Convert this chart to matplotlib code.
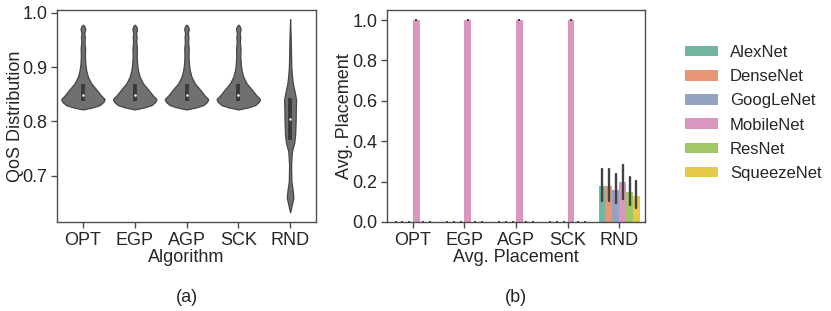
import matplotlib
matplotlib.use("Agg")
import matplotlib.pyplot as plt
from matplotlib.patches import Patch
import numpy as np
import seaborn as sns

sns.set_style("ticks")
plt.rcParams["font.family"] = ["Liberation Sans", "DejaVu Sans"]
plt.rcParams["font.size"] = 13

ALGOS = ["OPT", "EGP", "AGP", "SCK", "RND"]
MODELS = ["AlexNet", "DenseNet", "GoogLeNet", "MobileNet", "ResNet", "SqueezeNet"]

# (a) violin outlines: QoS level -> half width (category units)
greedy_qos = [0.822, 0.826, 0.830, 0.836, 0.841, 0.848, 0.858, 0.870, 0.882,
              0.894, 0.905, 0.920, 0.935, 0.945, 0.955, 0.962, 0.970, 0.975, 0.978]
greedy_hw = [0.0, 0.194, 0.324, 0.397, 0.420, 0.349, 0.266, 0.161, 0.097,
             0.064, 0.048, 0.039, 0.043, 0.031, 0.037, 0.027, 0.045, 0.029, 0.0]
rnd_qos = [0.633, 0.645, 0.660, 0.675, 0.690, 0.720, 0.745, 0.760, 0.775, 0.800,
           0.820, 0.840, 0.855, 0.870, 0.885, 0.900, 0.930, 0.960, 0.988]
rnd_hw = [0.0, 0.029, 0.064, 0.048, 0.025, 0.019, 0.035, 0.078, 0.097, 0.107,
          0.110, 0.116, 0.087, 0.052, 0.035, 0.023, 0.016, 0.010, 0.0]
violin_qos = [greedy_qos, greedy_qos, greedy_qos, greedy_qos, rnd_qos]
violin_hw = [greedy_hw, greedy_hw, greedy_hw, greedy_hw, rnd_hw]
q1 = [0.838, 0.838, 0.838, 0.838, 0.765]
median = [0.848, 0.848, 0.848, 0.848, 0.804]
q3 = [0.868, 0.868, 0.868, 0.868, 0.843]

# (b) average placement per model (rows follow ALGOS), with CI bounds
placement = {
    "AlexNet":    [0, 0, 0, 0, 0.178],
    "DenseNet":   [0, 0, 0, 0, 0.178],
    "GoogLeNet":  [0, 0, 0, 0, 0.157],
    "MobileNet":  [1.0, 1.0, 1.0, 1.0, 0.198],
    "ResNet":     [0, 0, 0, 0, 0.149],
    "SqueezeNet": [0, 0, 0, 0, 0.127],
}
ci_low = {
    "AlexNet":    [0, 0, 0, 0, 0.106],
    "DenseNet":   [0, 0, 0, 0, 0.106],
    "GoogLeNet":  [0, 0, 0, 0, 0.096],
    "MobileNet":  [1.0, 1.0, 1.0, 1.0, 0.112],
    "ResNet":     [0, 0, 0, 0, 0.084],
    "SqueezeNet": [0, 0, 0, 0, 0.068],
}
ci_high = {
    "AlexNet":    [0, 0, 0, 0, 0.264],
    "DenseNet":   [0, 0, 0, 0, 0.264],
    "GoogLeNet":  [0, 0, 0, 0, 0.236],
    "MobileNet":  [1.0, 1.0, 1.0, 1.0, 0.284],
    "ResNet":     [0, 0, 0, 0, 0.225],
    "SqueezeNet": [0, 0, 0, 0, 0.205],
}

W, H = 831, 311
fig = plt.figure(figsize=(W / 100, H / 100), dpi=100)
ax1 = fig.add_axes([57 / W, 1 - 222 / H, 259 / W, 212 / H])
ax2 = fig.add_axes([387 / W, 1 - 222 / H, 258 / W, 212 / H])

spine_c = "0.3"
for ax in (ax1, ax2):
    for s in ax.spines.values():
        s.set_color(spine_c)
        s.set_linewidth(1.0)
    ax.tick_params(colors="0.15", length=4, width=1, labelsize=13, pad=3)
    ax.tick_params(axis="both", color=spine_c)

# ---- (a) violins
for i in range(len(ALGOS)):
    y = np.array(violin_qos[i])
    hw = np.array(violin_hw[i])
    ax1.fill_betweenx(y, i - hw, i + hw, facecolor="#707070",
                      edgecolor="#454545", linewidth=0.9, zorder=2)
    ax1.plot([i, i], [q1[i], q3[i]], color="#3a3a3a", lw=2.8,
             solid_capstyle="butt", zorder=3)
    ax1.plot([i], [median[i]], "o", color="white", ms=1.8, mew=0, zorder=4)

ax1.set_xlim(-0.5, 4.5)
ax1.set_ylim(0.615, 1.005)
ax1.set_yticks([0.7, 0.8, 0.9, 1.0])
ax1.set_xticks(range(len(ALGOS)))
ax1.set_xticklabels(ALGOS)
ax1.set_xlabel("Algorithm", fontsize=13, color="0.15", labelpad=0)
ax1.set_ylabel("QoS Distribution", fontsize=13, color="0.15")
ax1.yaxis.set_label_coords(-33 / 259, 0.5)

# ---- (b) grouped bars
pal = [sns.desaturate(c, 0.75) for c in sns.color_palette("Set2", len(MODELS))]
bw = 0.8 / len(MODELS)
x = np.arange(len(ALGOS))
for j, m in enumerate(MODELS):
    xs = x - 0.4 + bw * (j + 0.5)
    ax2.bar(xs, placement[m], width=bw, color=pal[j], linewidth=0, zorder=2)
    for k in range(len(ALGOS)):
        ax2.plot([xs[k], xs[k]], [ci_low[m][k], ci_high[m][k]],
                 color="#424242", lw=1.7, zorder=3)
        if ci_low[m][k] == ci_high[m][k]:
            ax2.plot([xs[k]], [ci_low[m][k]], "s", color="#424242",
                     ms=1.6, mew=0, zorder=3, clip_on=False)

ax2.set_xlim(-0.5, 4.5)
ax2.set_ylim(0, 1.05)
ax2.set_yticks([0.0, 0.2, 0.4, 0.6, 0.8, 1.0])
ax2.set_xticks(x)
ax2.set_xticklabels(ALGOS)
ax2.set_xlabel("Avg. Placement", fontsize=13, color="0.15", labelpad=0)
ax2.set_ylabel("Avg. Placement", fontsize=13, color="0.15")
ax2.yaxis.set_label_coords(-34 / 258, 0.5)

handles = [Patch(facecolor=pal[j], edgecolor="none", label=m)
           for j, m in enumerate(MODELS)]
fig.legend(handles=handles, loc="center left",
           bbox_to_anchor=(670 / W, 1 - 113 / H), frameon=False,
           fontsize=12, handlelength=2.0, handleheight=0.6,
           handletextpad=0.7, labelspacing=0.55)

fig.text(186.5 / W, 1 - 297 / H, "(a)", ha="center", va="center",
         fontsize=13, color="0.15")
fig.text(516 / W, 1 - 297 / H, "(b)", ha="center", va="center",
         fontsize=13, color="0.15")

fig.savefig("out.png", dpi=100)
